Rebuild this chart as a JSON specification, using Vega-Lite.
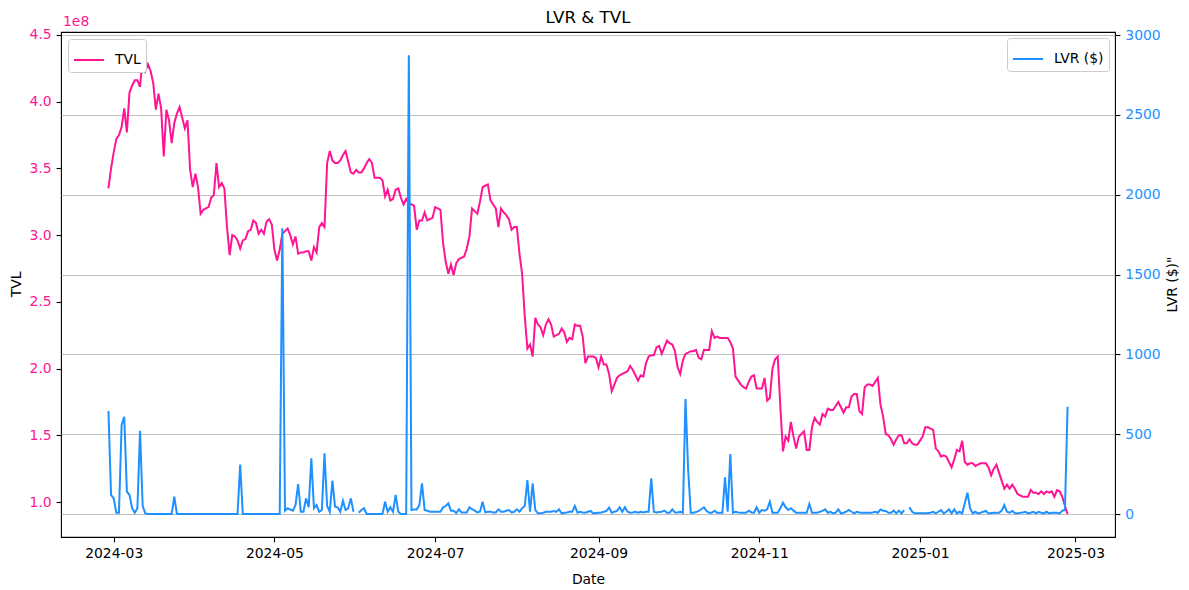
{
  "$schema": "https://vega.github.io/schema/vega-lite/v6.json",
  "width": 1054,
  "height": 505,
  "autosize": {"type": "none"},
  "padding": {"left": 61, "top": 32, "right": 74, "bottom": 53},
  "title": {"text": "LVR & TVL", "frame": "group", "offset": 8, "dy": 20, "fontSize": 16.7, "fontWeight": "normal", "font": "DejaVu Sans", "color": "black"},
  "config": {
    "font": "DejaVu Sans",
    "view": {"stroke": "black", "strokeWidth": 1.1},
    "axis": {
      "domain": false, "grid": false,
      "labelFont": "DejaVu Sans", "labelFontSize": 13.9, "labelColor": "black",
      "titleFont": "DejaVu Sans", "titleFontSize": 13.9, "titleFontWeight": "normal", "titleColor": "black",
      "tickColor": "black", "tickSize": 4.9, "tickWidth": 1.1, "labelPadding": 4.9
    },
    "legend": {
      "title": null, "symbolType": "stroke", "symbolSize": 900, "symbolStrokeWidth": 2,
      "labelFont": "DejaVu Sans", "labelFontSize": 13.9, "labelColor": "black", "labelOffset": 10,
      "fillColor": "white", "strokeColor": "#cccccc", "cornerRadius": 3, "padding": 5
    }
  },
  "data": {"values": [
    {"date":"2024-02-28","TVL":3.35e8,"LVR":645},
    {"date":"2024-02-29","TVL":3.50e8,"LVR":119},
    {"date":"2024-03-01","TVL":3.62e8,"LVR":98},
    {"date":"2024-03-02","TVL":3.72e8,"LVR":8},
    {"date":"2024-03-03","TVL":3.75e8,"LVR":8},
    {"date":"2024-03-04","TVL":3.81e8,"LVR":557},
    {"date":"2024-03-05","TVL":3.95e8,"LVR":609},
    {"date":"2024-03-06","TVL":3.77e8,"LVR":140},
    {"date":"2024-03-07","TVL":4.07e8,"LVR":119},
    {"date":"2024-03-08","TVL":4.12e8,"LVR":36},
    {"date":"2024-03-09","TVL":4.16e8,"LVR":8},
    {"date":"2024-03-10","TVL":4.16e8,"LVR":36},
    {"date":"2024-03-11","TVL":4.11e8,"LVR":522},
    {"date":"2024-03-12","TVL":4.34e8,"LVR":50},
    {"date":"2024-03-13","TVL":4.23e8,"LVR":4},
    {"date":"2024-03-14","TVL":4.28e8,"LVR":0},
    {"date":"2024-03-15","TVL":4.23e8,"LVR":0},
    {"date":"2024-03-16","TVL":4.14e8,"LVR":0},
    {"date":"2024-03-17","TVL":3.94e8,"LVR":0},
    {"date":"2024-03-18","TVL":4.06e8,"LVR":0},
    {"date":"2024-03-19","TVL":3.95e8,"LVR":0},
    {"date":"2024-03-20","TVL":3.59e8,"LVR":0},
    {"date":"2024-03-21","TVL":3.94e8,"LVR":0},
    {"date":"2024-03-22","TVL":3.86e8,"LVR":0},
    {"date":"2024-03-23","TVL":3.69e8,"LVR":0},
    {"date":"2024-03-24","TVL":3.84e8,"LVR":108},
    {"date":"2024-03-25","TVL":3.91e8,"LVR":0},
    {"date":"2024-03-26","TVL":3.96e8,"LVR":0},
    {"date":"2024-03-27","TVL":3.88e8,"LVR":0},
    {"date":"2024-03-28","TVL":3.80e8,"LVR":0},
    {"date":"2024-03-29","TVL":3.86e8,"LVR":0},
    {"date":"2024-03-30","TVL":3.49e8,"LVR":0},
    {"date":"2024-03-31","TVL":3.36e8,"LVR":0},
    {"date":"2024-04-01","TVL":3.46e8,"LVR":0},
    {"date":"2024-04-02","TVL":3.36e8,"LVR":0},
    {"date":"2024-04-03","TVL":3.16e8,"LVR":0},
    {"date":"2024-04-04","TVL":3.19e8,"LVR":0},
    {"date":"2024-04-05","TVL":3.20e8,"LVR":0},
    {"date":"2024-04-06","TVL":3.21e8,"LVR":0},
    {"date":"2024-04-07","TVL":3.28e8,"LVR":0},
    {"date":"2024-04-08","TVL":3.30e8,"LVR":0},
    {"date":"2024-04-09","TVL":3.54e8,"LVR":0},
    {"date":"2024-04-10","TVL":3.36e8,"LVR":0},
    {"date":"2024-04-11","TVL":3.39e8,"LVR":0},
    {"date":"2024-04-12","TVL":3.35e8,"LVR":0},
    {"date":"2024-04-13","TVL":3.06e8,"LVR":0},
    {"date":"2024-04-14","TVL":2.85e8,"LVR":0},
    {"date":"2024-04-15","TVL":3.00e8,"LVR":0},
    {"date":"2024-04-16","TVL":2.99e8,"LVR":0},
    {"date":"2024-04-17","TVL":2.96e8,"LVR":0},
    {"date":"2024-04-18","TVL":2.90e8,"LVR":310},
    {"date":"2024-04-19","TVL":2.96e8,"LVR":0},
    {"date":"2024-04-20","TVL":2.97e8,"LVR":0},
    {"date":"2024-04-21","TVL":3.03e8,"LVR":0},
    {"date":"2024-04-22","TVL":3.04e8,"LVR":0},
    {"date":"2024-04-23","TVL":3.11e8,"LVR":0},
    {"date":"2024-04-24","TVL":3.09e8,"LVR":0},
    {"date":"2024-04-25","TVL":3.01e8,"LVR":0},
    {"date":"2024-04-26","TVL":3.04e8,"LVR":0},
    {"date":"2024-04-27","TVL":3.01e8,"LVR":0},
    {"date":"2024-04-28","TVL":3.10e8,"LVR":0},
    {"date":"2024-04-29","TVL":3.12e8,"LVR":0},
    {"date":"2024-04-30","TVL":3.08e8,"LVR":0},
    {"date":"2024-05-01","TVL":2.89e8,"LVR":0},
    {"date":"2024-05-02","TVL":2.81e8,"LVR":0},
    {"date":"2024-05-03","TVL":2.89e8,"LVR":0},
    {"date":"2024-05-04","TVL":3.01e8,"LVR":1790},
    {"date":"2024-05-05","TVL":3.03e8,"LVR":21},
    {"date":"2024-05-06","TVL":3.05e8,"LVR":36},
    {"date":"2024-05-07","TVL":3.00e8,"LVR":28},
    {"date":"2024-05-08","TVL":2.93e8,"LVR":21},
    {"date":"2024-05-09","TVL":2.99e8,"LVR":56},
    {"date":"2024-05-10","TVL":2.86e8,"LVR":188},
    {"date":"2024-05-11","TVL":2.87e8,"LVR":14},
    {"date":"2024-05-12","TVL":2.87e8,"LVR":14},
    {"date":"2024-05-13","TVL":2.88e8,"LVR":98},
    {"date":"2024-05-14","TVL":2.88e8,"LVR":42},
    {"date":"2024-05-15","TVL":2.81e8,"LVR":349},
    {"date":"2024-05-16","TVL":2.91e8,"LVR":36},
    {"date":"2024-05-17","TVL":2.87e8,"LVR":56},
    {"date":"2024-05-18","TVL":3.06e8,"LVR":14},
    {"date":"2024-05-19","TVL":3.09e8,"LVR":25},
    {"date":"2024-05-20","TVL":3.06e8,"LVR":380},
    {"date":"2024-05-21","TVL":3.54e8,"LVR":50},
    {"date":"2024-05-22","TVL":3.63e8,"LVR":14},
    {"date":"2024-05-23","TVL":3.56e8,"LVR":209},
    {"date":"2024-05-24","TVL":3.54e8,"LVR":46},
    {"date":"2024-05-25","TVL":3.54e8,"LVR":42},
    {"date":"2024-05-26","TVL":3.56e8,"LVR":14},
    {"date":"2024-05-27","TVL":3.60e8,"LVR":83},
    {"date":"2024-05-28","TVL":3.63e8,"LVR":25},
    {"date":"2024-05-29","TVL":3.55e8,"LVR":36},
    {"date":"2024-05-30","TVL":3.47e8,"LVR":98},
    {"date":"2024-05-31","TVL":3.46e8,"LVR":14},
    {"date":"2024-06-01","TVL":3.49e8,"LVR":null},
    {"date":"2024-06-02","TVL":3.47e8,"LVR":8},
    {"date":"2024-06-03","TVL":3.47e8,"LVR":25},
    {"date":"2024-06-04","TVL":3.50e8,"LVR":36},
    {"date":"2024-06-05","TVL":3.54e8,"LVR":0},
    {"date":"2024-06-06","TVL":3.57e8,"LVR":0},
    {"date":"2024-06-07","TVL":3.54e8,"LVR":0},
    {"date":"2024-06-08","TVL":3.43e8,"LVR":0},
    {"date":"2024-06-09","TVL":3.43e8,"LVR":0},
    {"date":"2024-06-10","TVL":3.43e8,"LVR":0},
    {"date":"2024-06-11","TVL":3.41e8,"LVR":0},
    {"date":"2024-06-12","TVL":3.29e8,"LVR":77},
    {"date":"2024-06-13","TVL":3.34e8,"LVR":14},
    {"date":"2024-06-14","TVL":3.26e8,"LVR":42},
    {"date":"2024-06-15","TVL":3.27e8,"LVR":14},
    {"date":"2024-06-16","TVL":3.34e8,"LVR":119},
    {"date":"2024-06-17","TVL":3.35e8,"LVR":14},
    {"date":"2024-06-18","TVL":3.28e8,"LVR":0},
    {"date":"2024-06-19","TVL":3.23e8,"LVR":0},
    {"date":"2024-06-20","TVL":3.27e8,"LVR":0},
    {"date":"2024-06-21","TVL":3.24e8,"LVR":2874},
    {"date":"2024-06-22","TVL":3.23e8,"LVR":25},
    {"date":"2024-06-23","TVL":3.22e8,"LVR":29},
    {"date":"2024-06-24","TVL":3.04e8,"LVR":29},
    {"date":"2024-06-25","TVL":3.11e8,"LVR":56},
    {"date":"2024-06-26","TVL":3.11e8,"LVR":192},
    {"date":"2024-06-27","TVL":3.17e8,"LVR":25},
    {"date":"2024-06-28","TVL":3.11e8,"LVR":21},
    {"date":"2024-06-29","TVL":3.12e8,"LVR":14},
    {"date":"2024-06-30","TVL":3.13e8,"LVR":14},
    {"date":"2024-07-01","TVL":3.21e8,"LVR":14},
    {"date":"2024-07-02","TVL":3.20e8,"LVR":14},
    {"date":"2024-07-03","TVL":3.19e8,"LVR":14},
    {"date":"2024-07-04","TVL":2.94e8,"LVR":42},
    {"date":"2024-07-05","TVL":2.80e8,"LVR":50},
    {"date":"2024-07-06","TVL":2.71e8,"LVR":67},
    {"date":"2024-07-07","TVL":2.78e8,"LVR":21},
    {"date":"2024-07-08","TVL":2.70e8,"LVR":21},
    {"date":"2024-07-09","TVL":2.79e8,"LVR":6},
    {"date":"2024-07-10","TVL":2.82e8,"LVR":29},
    {"date":"2024-07-11","TVL":2.83e8,"LVR":10},
    {"date":"2024-07-12","TVL":2.84e8,"LVR":10},
    {"date":"2024-07-13","TVL":2.90e8,"LVR":10},
    {"date":"2024-07-14","TVL":2.99e8,"LVR":42},
    {"date":"2024-07-15","TVL":3.20e8,"LVR":30},
    {"date":"2024-07-16","TVL":3.18e8,"LVR":21},
    {"date":"2024-07-17","TVL":3.16e8,"LVR":10},
    {"date":"2024-07-18","TVL":3.25e8,"LVR":14},
    {"date":"2024-07-19","TVL":3.36e8,"LVR":77},
    {"date":"2024-07-20","TVL":3.37e8,"LVR":10},
    {"date":"2024-07-21","TVL":3.38e8,"LVR":14},
    {"date":"2024-07-22","TVL":3.26e8,"LVR":14},
    {"date":"2024-07-23","TVL":3.23e8,"LVR":10},
    {"date":"2024-07-24","TVL":3.20e8,"LVR":10},
    {"date":"2024-07-25","TVL":3.06e8,"LVR":29},
    {"date":"2024-07-26","TVL":3.20e8,"LVR":14},
    {"date":"2024-07-27","TVL":3.17e8,"LVR":14},
    {"date":"2024-07-28","TVL":3.15e8,"LVR":20},
    {"date":"2024-07-29","TVL":3.12e8,"LVR":25},
    {"date":"2024-07-30","TVL":3.04e8,"LVR":10},
    {"date":"2024-07-31","TVL":3.06e8,"LVR":14},
    {"date":"2024-08-01","TVL":3.06e8,"LVR":29},
    {"date":"2024-08-02","TVL":2.86e8,"LVR":14},
    {"date":"2024-08-03","TVL":2.71e8,"LVR":36},
    {"date":"2024-08-04","TVL":2.39e8,"LVR":50},
    {"date":"2024-08-05","TVL":2.15e8,"LVR":213},
    {"date":"2024-08-06","TVL":2.18e8,"LVR":14},
    {"date":"2024-08-07","TVL":2.09e8,"LVR":192},
    {"date":"2024-08-08","TVL":2.38e8,"LVR":25},
    {"date":"2024-08-09","TVL":2.33e8,"LVR":4},
    {"date":"2024-08-10","TVL":2.31e8,"LVR":4},
    {"date":"2024-08-11","TVL":2.25e8,"LVR":8},
    {"date":"2024-08-12","TVL":2.33e8,"LVR":14},
    {"date":"2024-08-13","TVL":2.37e8,"LVR":14},
    {"date":"2024-08-14","TVL":2.33e8,"LVR":14},
    {"date":"2024-08-15","TVL":2.24e8,"LVR":19},
    {"date":"2024-08-16","TVL":2.25e8,"LVR":14},
    {"date":"2024-08-17","TVL":2.26e8,"LVR":29},
    {"date":"2024-08-18","TVL":2.30e8,"LVR":4},
    {"date":"2024-08-19","TVL":2.27e8,"LVR":8},
    {"date":"2024-08-20","TVL":2.20e8,"LVR":10},
    {"date":"2024-08-21","TVL":2.23e8,"LVR":14},
    {"date":"2024-08-22","TVL":2.22e8,"LVR":14},
    {"date":"2024-08-23","TVL":2.33e8,"LVR":50},
    {"date":"2024-08-24","TVL":2.32e8,"LVR":8},
    {"date":"2024-08-25","TVL":2.32e8,"LVR":14},
    {"date":"2024-08-26","TVL":2.24e8,"LVR":10},
    {"date":"2024-08-27","TVL":2.04e8,"LVR":8},
    {"date":"2024-08-28","TVL":2.09e8,"LVR":14},
    {"date":"2024-08-29","TVL":2.09e8,"LVR":19},
    {"date":"2024-08-30","TVL":2.09e8,"LVR":4},
    {"date":"2024-08-31","TVL":2.08e8,"LVR":6},
    {"date":"2024-09-01","TVL":2.01e8,"LVR":8},
    {"date":"2024-09-02","TVL":2.09e8,"LVR":10},
    {"date":"2024-09-03","TVL":2.03e8,"LVR":14},
    {"date":"2024-09-04","TVL":2.03e8,"LVR":19},
    {"date":"2024-09-05","TVL":1.96e8,"LVR":40},
    {"date":"2024-09-06","TVL":1.83e8,"LVR":8},
    {"date":"2024-09-07","TVL":1.88e8,"LVR":14},
    {"date":"2024-09-08","TVL":1.93e8,"LVR":19},
    {"date":"2024-09-09","TVL":1.95e8,"LVR":42},
    {"date":"2024-09-10","TVL":1.96e8,"LVR":14},
    {"date":"2024-09-11","TVL":1.97e8,"LVR":42},
    {"date":"2024-09-12","TVL":1.98e8,"LVR":14},
    {"date":"2024-09-13","TVL":2.02e8,"LVR":8},
    {"date":"2024-09-14","TVL":1.99e8,"LVR":10},
    {"date":"2024-09-15","TVL":1.95e8,"LVR":14},
    {"date":"2024-09-16","TVL":1.91e8,"LVR":8},
    {"date":"2024-09-17","TVL":1.95e8,"LVR":14},
    {"date":"2024-09-18","TVL":1.94e8,"LVR":10},
    {"date":"2024-09-19","TVL":2.04e8,"LVR":14},
    {"date":"2024-09-20","TVL":2.09e8,"LVR":14},
    {"date":"2024-09-21","TVL":2.10e8,"LVR":223},
    {"date":"2024-09-22","TVL":2.10e8,"LVR":14},
    {"date":"2024-09-23","TVL":2.16e8,"LVR":10},
    {"date":"2024-09-24","TVL":2.17e8,"LVR":12},
    {"date":"2024-09-25","TVL":2.11e8,"LVR":14},
    {"date":"2024-09-26","TVL":2.16e8,"LVR":21},
    {"date":"2024-09-27","TVL":2.21e8,"LVR":8},
    {"date":"2024-09-28","TVL":2.19e8,"LVR":8},
    {"date":"2024-09-29","TVL":2.18e8,"LVR":29},
    {"date":"2024-09-30","TVL":2.13e8,"LVR":10},
    {"date":"2024-10-01","TVL":2.01e8,"LVR":10},
    {"date":"2024-10-02","TVL":1.96e8,"LVR":14},
    {"date":"2024-10-03","TVL":2.06e8,"LVR":8},
    {"date":"2024-10-04","TVL":2.11e8,"LVR":720},
    {"date":"2024-10-05","TVL":2.12e8,"LVR":280},
    {"date":"2024-10-06","TVL":2.13e8,"LVR":8},
    {"date":"2024-10-07","TVL":2.13e8,"LVR":8},
    {"date":"2024-10-08","TVL":2.14e8,"LVR":12},
    {"date":"2024-10-09","TVL":2.08e8,"LVR":19},
    {"date":"2024-10-10","TVL":2.07e8,"LVR":30},
    {"date":"2024-10-11","TVL":2.14e8,"LVR":42},
    {"date":"2024-10-12","TVL":2.14e8,"LVR":19},
    {"date":"2024-10-13","TVL":2.14e8,"LVR":8},
    {"date":"2024-10-14","TVL":2.28e8,"LVR":8},
    {"date":"2024-10-15","TVL":2.23e8,"LVR":21},
    {"date":"2024-10-16","TVL":2.24e8,"LVR":8},
    {"date":"2024-10-17","TVL":2.23e8,"LVR":8},
    {"date":"2024-10-18","TVL":2.23e8,"LVR":8},
    {"date":"2024-10-19","TVL":2.23e8,"LVR":230},
    {"date":"2024-10-20","TVL":2.23e8,"LVR":14},
    {"date":"2024-10-21","TVL":2.20e8,"LVR":376},
    {"date":"2024-10-22","TVL":2.15e8,"LVR":8},
    {"date":"2024-10-23","TVL":1.94e8,"LVR":14},
    {"date":"2024-10-24","TVL":1.91e8,"LVR":10},
    {"date":"2024-10-25","TVL":1.88e8,"LVR":8},
    {"date":"2024-10-26","TVL":1.86e8,"LVR":8},
    {"date":"2024-10-27","TVL":1.85e8,"LVR":8},
    {"date":"2024-10-28","TVL":1.90e8,"LVR":21},
    {"date":"2024-10-29","TVL":1.94e8,"LVR":10},
    {"date":"2024-10-30","TVL":1.95e8,"LVR":8},
    {"date":"2024-10-31","TVL":1.85e8,"LVR":42},
    {"date":"2024-11-01","TVL":1.85e8,"LVR":8},
    {"date":"2024-11-02","TVL":1.85e8,"LVR":25},
    {"date":"2024-11-03","TVL":1.93e8,"LVR":21},
    {"date":"2024-11-04","TVL":1.76e8,"LVR":29},
    {"date":"2024-11-05","TVL":1.78e8,"LVR":77},
    {"date":"2024-11-06","TVL":2.00e8,"LVR":8},
    {"date":"2024-11-07","TVL":2.07e8,"LVR":8},
    {"date":"2024-11-08","TVL":2.09e8,"LVR":8},
    {"date":"2024-11-09","TVL":1.71e8,"LVR":36},
    {"date":"2024-11-10","TVL":1.38e8,"LVR":71},
    {"date":"2024-11-11","TVL":1.49e8,"LVR":42},
    {"date":"2024-11-12","TVL":1.46e8,"LVR":25},
    {"date":"2024-11-13","TVL":1.60e8,"LVR":36},
    {"date":"2024-11-14","TVL":1.49e8,"LVR":21},
    {"date":"2024-11-15","TVL":1.40e8,"LVR":8},
    {"date":"2024-11-16","TVL":1.49e8,"LVR":8},
    {"date":"2024-11-17","TVL":1.51e8,"LVR":8},
    {"date":"2024-11-18","TVL":1.53e8,"LVR":8},
    {"date":"2024-11-19","TVL":1.39e8,"LVR":8},
    {"date":"2024-11-20","TVL":1.39e8,"LVR":63},
    {"date":"2024-11-21","TVL":1.56e8,"LVR":8},
    {"date":"2024-11-22","TVL":1.63e8,"LVR":8},
    {"date":"2024-11-23","TVL":1.60e8,"LVR":8},
    {"date":"2024-11-24","TVL":1.58e8,"LVR":14},
    {"date":"2024-11-25","TVL":1.66e8,"LVR":20},
    {"date":"2024-11-26","TVL":1.64e8,"LVR":29},
    {"date":"2024-11-27","TVL":1.70e8,"LVR":8},
    {"date":"2024-11-28","TVL":1.69e8,"LVR":14},
    {"date":"2024-11-29","TVL":1.69e8,"LVR":4},
    {"date":"2024-11-30","TVL":1.72e8,"LVR":8},
    {"date":"2024-12-01","TVL":1.75e8,"LVR":29},
    {"date":"2024-12-02","TVL":1.71e8,"LVR":4},
    {"date":"2024-12-03","TVL":1.67e8,"LVR":8},
    {"date":"2024-12-04","TVL":1.71e8,"LVR":15},
    {"date":"2024-12-05","TVL":1.71e8,"LVR":25},
    {"date":"2024-12-06","TVL":1.79e8,"LVR":14},
    {"date":"2024-12-07","TVL":1.81e8,"LVR":4},
    {"date":"2024-12-08","TVL":1.81e8,"LVR":14},
    {"date":"2024-12-09","TVL":1.68e8,"LVR":10},
    {"date":"2024-12-10","TVL":1.66e8,"LVR":8},
    {"date":"2024-12-11","TVL":1.86e8,"LVR":8},
    {"date":"2024-12-12","TVL":1.88e8,"LVR":8},
    {"date":"2024-12-13","TVL":1.88e8,"LVR":8},
    {"date":"2024-12-14","TVL":1.87e8,"LVR":10},
    {"date":"2024-12-15","TVL":1.90e8,"LVR":14},
    {"date":"2024-12-16","TVL":1.93e8,"LVR":8},
    {"date":"2024-12-17","TVL":1.73e8,"LVR":29},
    {"date":"2024-12-18","TVL":1.64e8,"LVR":21},
    {"date":"2024-12-19","TVL":1.51e8,"LVR":19},
    {"date":"2024-12-20","TVL":1.50e8,"LVR":8},
    {"date":"2024-12-21","TVL":1.47e8,"LVR":8},
    {"date":"2024-12-22","TVL":1.43e8,"LVR":21},
    {"date":"2024-12-23","TVL":1.47e8,"LVR":4},
    {"date":"2024-12-24","TVL":1.50e8,"LVR":21},
    {"date":"2024-12-25","TVL":1.50e8,"LVR":4},
    {"date":"2024-12-26","TVL":1.44e8,"LVR":25},
    {"date":"2024-12-27","TVL":1.44e8,"LVR":null},
    {"date":"2024-12-28","TVL":1.47e8,"LVR":42},
    {"date":"2024-12-29","TVL":1.44e8,"LVR":14},
    {"date":"2024-12-30","TVL":1.43e8,"LVR":4},
    {"date":"2024-12-31","TVL":1.43e8,"LVR":4},
    {"date":"2025-01-01","TVL":1.46e8,"LVR":4},
    {"date":"2025-01-02","TVL":1.49e8,"LVR":4},
    {"date":"2025-01-03","TVL":1.56e8,"LVR":4},
    {"date":"2025-01-04","TVL":1.56e8,"LVR":6},
    {"date":"2025-01-05","TVL":1.55e8,"LVR":8},
    {"date":"2025-01-06","TVL":1.54e8,"LVR":14},
    {"date":"2025-01-07","TVL":1.40e8,"LVR":4},
    {"date":"2025-01-08","TVL":1.38e8,"LVR":14},
    {"date":"2025-01-09","TVL":1.34e8,"LVR":25},
    {"date":"2025-01-10","TVL":1.35e8,"LVR":4},
    {"date":"2025-01-11","TVL":1.34e8,"LVR":14},
    {"date":"2025-01-12","TVL":1.30e8,"LVR":29},
    {"date":"2025-01-13","TVL":1.26e8,"LVR":4},
    {"date":"2025-01-14","TVL":1.32e8,"LVR":29},
    {"date":"2025-01-15","TVL":1.39e8,"LVR":4},
    {"date":"2025-01-16","TVL":1.38e8,"LVR":14},
    {"date":"2025-01-17","TVL":1.46e8,"LVR":4},
    {"date":"2025-01-18","TVL":1.30e8,"LVR":67},
    {"date":"2025-01-19","TVL":1.28e8,"LVR":133},
    {"date":"2025-01-20","TVL":1.29e8,"LVR":36},
    {"date":"2025-01-21","TVL":1.29e8,"LVR":4},
    {"date":"2025-01-22","TVL":1.27e8,"LVR":14},
    {"date":"2025-01-23","TVL":1.28e8,"LVR":4},
    {"date":"2025-01-24","TVL":1.29e8,"LVR":8},
    {"date":"2025-01-25","TVL":1.29e8,"LVR":14},
    {"date":"2025-01-26","TVL":1.29e8,"LVR":19},
    {"date":"2025-01-27","TVL":1.26e8,"LVR":4},
    {"date":"2025-01-28","TVL":1.20e8,"LVR":6},
    {"date":"2025-01-29","TVL":1.25e8,"LVR":8},
    {"date":"2025-01-30","TVL":1.28e8,"LVR":8},
    {"date":"2025-01-31","TVL":1.22e8,"LVR":8},
    {"date":"2025-02-01","TVL":1.16e8,"LVR":21},
    {"date":"2025-02-02","TVL":1.10e8,"LVR":56},
    {"date":"2025-02-03","TVL":1.13e8,"LVR":14},
    {"date":"2025-02-04","TVL":1.10e8,"LVR":8},
    {"date":"2025-02-05","TVL":1.13e8,"LVR":19},
    {"date":"2025-02-06","TVL":1.10e8,"LVR":6},
    {"date":"2025-02-07","TVL":1.06e8,"LVR":4},
    {"date":"2025-02-08","TVL":1.05e8,"LVR":8},
    {"date":"2025-02-09","TVL":1.04e8,"LVR":10},
    {"date":"2025-02-10","TVL":1.04e8,"LVR":14},
    {"date":"2025-02-11","TVL":1.04e8,"LVR":4},
    {"date":"2025-02-12","TVL":1.09e8,"LVR":8},
    {"date":"2025-02-13","TVL":1.07e8,"LVR":14},
    {"date":"2025-02-14","TVL":1.07e8,"LVR":4},
    {"date":"2025-02-15","TVL":1.06e8,"LVR":14},
    {"date":"2025-02-16","TVL":1.08e8,"LVR":8},
    {"date":"2025-02-17","TVL":1.06e8,"LVR":4},
    {"date":"2025-02-18","TVL":1.08e8,"LVR":14},
    {"date":"2025-02-19","TVL":1.07e8,"LVR":4},
    {"date":"2025-02-20","TVL":1.08e8,"LVR":8},
    {"date":"2025-02-21","TVL":1.04e8,"LVR":8},
    {"date":"2025-02-22","TVL":1.09e8,"LVR":8},
    {"date":"2025-02-23","TVL":1.08e8,"LVR":4},
    {"date":"2025-02-24","TVL":1.04e8,"LVR":21},
    {"date":"2025-02-25","TVL":9.7e7,"LVR":25},
    {"date":"2025-02-26","TVL":9.1e7,"LVR":672}
  ]},
  "layer": [
    {
      "layer": [
        {
          "mark": {"type": "line", "strokeWidth": 2, "color": "#ff1493"},
          "encoding": {
            "x": {
              "field": "date", "type": "temporal", "title": "Date",
              "scale": {"type": "utc", "domain": [{"year": 2024, "month": 2, "date": 10, "utc": true}, {"year": 2025, "month": 3, "date": 16, "utc": true}]},
              "axis": {
                "values": [
                  {"year": 2024, "month": 3, "date": 1, "utc": true},
                  {"year": 2024, "month": 5, "date": 1, "utc": true},
                  {"year": 2024, "month": 7, "date": 1, "utc": true},
                  {"year": 2024, "month": 9, "date": 1, "utc": true},
                  {"year": 2024, "month": 11, "date": 1, "utc": true},
                  {"year": 2025, "month": 1, "date": 1, "utc": true},
                  {"year": 2025, "month": 3, "date": 1, "utc": true}
                ],
                "labelExpr": "utcFormat(datum.value, '%Y-%m')",
                "titleX": 527, "titleY": 42, "titleBaseline": "middle"
              }
            },
            "y": {
              "field": "TVL", "type": "quantitative", "title": "TVL",
              "scale": {"domain": [73800000, 452200000], "nice": false, "zero": false},
              "axis": {
                "values": [100000000, 150000000, 200000000, 250000000, 300000000, 350000000, 400000000, 450000000],
                "labelExpr": "format(datum.value / 1e8, '.1f')",
                "labelColor": "#ff1493",
                "titleAngle": 270, "titleX": -45, "titleY": 252, "titleAlign": "center", "titleBaseline": "middle"
              }
            },
            "color": {
              "datum": "TVL", "type": "nominal",
              "scale": {"range": ["#ff1493"]},
              "legend": {"orient": "top-left", "offset": 7}
            }
          }
        },
        {
          "data": {"values": [{"label": "1e8"}]},
          "mark": {"type": "text", "align": "left", "baseline": "middle", "dx": 2, "fontSize": 13.9, "color": "#ff1493"},
          "encoding": {
            "x": {"datum": {"year": 2024, "month": 2, "date": 10, "utc": true}, "type": "temporal", "title": "Date"},
            "y": {"datum": 460000000, "type": "quantitative", "title": "TVL"},
            "text": {"field": "label"}
          }
        }
      ]
    },
    {
      "mark": {"type": "line", "strokeWidth": 2, "color": "#1e90ff", "invalid": "break-paths-filter-domains"},
      "encoding": {
        "x": {"field": "date", "type": "temporal", "title": "Date"},
        "y": {
          "field": "LVR", "type": "quantitative", "title": "LVR ($)\"",
          "scale": {"domain": [-144, 3019], "nice": false, "zero": false},
          "axis": {
            "orient": "right",
            "values": [0, 500, 1000, 1500, 2000, 2500, 3000],
            "format": "d",
            "labelColor": "#1e90ff",
            "grid": true, "gridColor": "#b0b0b0", "gridWidth": 0.8,
            "titleAngle": 270, "titleX": 57, "titleY": 252, "titleAlign": "center", "titleBaseline": "middle"
          }
        },
        "color": {
          "datum": "LVR ($)", "type": "nominal",
          "scale": {"range": ["#1e90ff"]},
          "legend": {"orient": "top-right", "offset": 6}
        }
      }
    }
  ],
  "resolve": {"scale": {"y": "independent", "color": "independent"}}
}
